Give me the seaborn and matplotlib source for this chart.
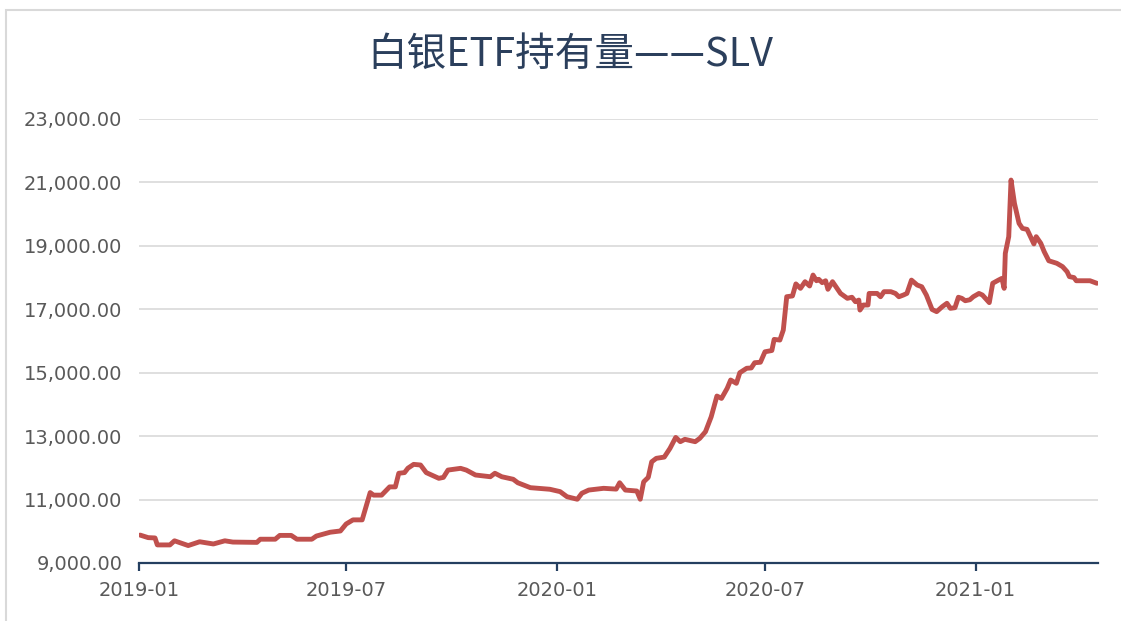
import numpy as np
import pandas as pd
import matplotlib
matplotlib.use("Agg")
import matplotlib.pyplot as plt
import matplotlib.dates as mdates
from matplotlib.patches import Rectangle
from matplotlib.ticker import FuncFormatter
import seaborn as sns

# ---- data ----
dates = [
    "2019-01-02", "2019-01-09", "2019-01-15", "2019-01-17", "2019-01-28", "2019-02-01",
    "2019-02-13", "2019-02-23", "2019-03-07", "2019-03-17", "2019-03-24", "2019-04-14",
    "2019-04-17", "2019-04-30", "2019-05-04", "2019-05-14", "2019-05-19", "2019-06-01",
    "2019-06-05", "2019-06-17", "2019-06-26", "2019-07-01", "2019-07-07", "2019-07-15",
    "2019-07-22", "2019-07-25", "2019-08-01", "2019-08-08", "2019-08-13", "2019-08-16",
    "2019-08-21", "2019-08-24", "2019-08-29", "2019-09-04", "2019-09-09", "2019-09-20",
    "2019-09-24", "2019-09-28", "2019-10-09", "2019-10-14", "2019-10-22", "2019-11-04",
    "2019-11-08", "2019-11-14", "2019-11-24", "2019-11-28", "2019-12-09", "2019-12-26",
    "2020-01-04", "2020-01-10", "2020-01-19", "2020-01-23", "2020-01-29", "2020-02-11",
    "2020-02-22", "2020-02-25", "2020-03-01", "2020-03-11", "2020-03-14", "2020-03-17",
    "2020-03-21", "2020-03-24", "2020-03-28", "2020-04-04", "2020-04-09", "2020-04-14",
    "2020-04-18", "2020-04-22", "2020-05-01", "2020-05-05", "2020-05-10", "2020-05-15",
    "2020-05-20", "2020-05-24", "2020-05-29", "2020-06-01", "2020-06-06", "2020-06-09",
    "2020-06-15", "2020-06-19", "2020-06-22", "2020-06-27", "2020-07-01", "2020-07-07",
    "2020-07-09", "2020-07-14", "2020-07-17", "2020-07-20", "2020-07-25", "2020-07-28",
    "2020-08-01", "2020-08-05", "2020-08-09", "2020-08-12", "2020-08-15", "2020-08-17",
    "2020-08-20", "2020-08-23", "2020-08-25", "2020-08-29", "2020-08-31", "2020-09-05",
    "2020-09-11", "2020-09-15", "2020-09-18", "2020-09-21", "2020-09-22", "2020-09-25",
    "2020-09-29", "2020-09-30", "2020-10-07", "2020-10-10", "2020-10-13", "2020-10-19",
    "2020-10-23", "2020-10-26", "2020-10-30", "2020-11-02", "2020-11-06", "2020-11-11",
    "2020-11-15", "2020-11-19", "2020-11-24", "2020-11-28", "2020-12-03", "2020-12-07",
    "2020-12-10", "2020-12-14", "2020-12-17", "2020-12-20", "2020-12-23", "2020-12-27",
    "2020-12-30", "2021-01-04", "2021-01-07", "2021-01-13", "2021-01-16", "2021-01-21",
    "2021-01-24", "2021-01-26", "2021-01-27", "2021-01-30", "2021-02-01", "2021-02-04",
    "2021-02-08", "2021-02-11", "2021-02-15", "2021-02-18", "2021-02-21", "2021-02-23",
    "2021-02-27", "2021-03-02", "2021-03-06", "2021-03-13", "2021-03-18", "2021-03-22",
    "2021-03-24", "2021-03-28", "2021-03-30", "2021-04-11", "2021-04-17",
]
holdings = [
    9880, 9800, 9790, 9570, 9570, 9700,
    9550, 9670, 9600, 9700, 9660, 9650,
    9750, 9750, 9870, 9870, 9750, 9750,
    9850, 9970, 10010, 10230, 10360, 10360,
    11220, 11140, 11140, 11400, 11400, 11830,
    11850, 11990, 12110, 12090, 11850, 11670,
    11700, 11930, 11985, 11930, 11775, 11720,
    11830, 11720, 11640, 11530, 11375, 11325,
    11250, 11090, 11010, 11200, 11300, 11355,
    11330, 11530, 11300, 11270, 11010, 11560,
    11700, 12190, 12300, 12340, 12615, 12960,
    12825, 12900, 12825, 12930, 13140, 13610,
    14265, 14190, 14510, 14770, 14665, 15000,
    15140, 15150, 15315, 15330, 15660, 15700,
    16050, 16030, 16345, 17397, 17420, 17800,
    17660, 17870, 17735, 18080, 17900, 17945,
    17840, 17900, 17630, 17870, 17765, 17500,
    17345, 17380, 17240, 17290, 16975, 17135,
    17135, 17500, 17500, 17395, 17555, 17555,
    17500, 17395, 17450, 17500, 17920, 17765,
    17710, 17450, 16995, 16925, 17085, 17190,
    17030, 17050, 17380, 17345, 17270, 17300,
    17395, 17500, 17450, 17210, 17820, 17920,
    17975, 17660, 18765, 19290, 21075, 20340,
    19710, 19550, 19520, 19290, 19060, 19290,
    19080, 18815, 18530, 18450, 18345, 18185,
    18030, 18000, 17900, 17900, 17820,
]
title_text = "白银ETF持有量——SLV"
y_ticks = [9000, 11000, 13000, 15000, 17000, 19000, 21000, 23000]
x_start, x_end = "2019-01-01", "2021-04-18"

df = pd.DataFrame({"date": pd.to_datetime(dates), "holdings": holdings})

# ---- style ----
sns.set_theme(style="white")
plt.rcParams["font.family"] = ["DejaVu Sans", "Noto Sans CJK SC"]

W, H = 1121, 621
fig = plt.figure(figsize=(W / 100, H / 100), dpi=100)
fig.patch.set_facecolor("white")

# chart-area frame (light gray, cut off at right/bottom)
fig.add_artist(Rectangle((6 / W, -0.2), 1.5, 1 - 10 / H + 0.2, transform=fig.transFigure,
                         fill=False, ec="#D9D9D9", lw=1.5))

ax = fig.add_axes([139 / W, 1 - 563 / H, (1098 - 139) / W, (563 - 119) / H])

sns.lineplot(data=df, x="date", y="holdings", ax=ax, color="#C0504D", linewidth=3.5,
             solid_joinstyle="round", solid_capstyle="round")

ax.set_ylim(9000, 23000)
ax.set_xlim(pd.Timestamp(x_start), pd.Timestamp(x_end))
ax.set_yticks(y_ticks)
ax.yaxis.set_major_formatter(FuncFormatter(lambda v, p: f"{v:,.2f}"))
ax.xaxis.set_major_locator(mdates.MonthLocator(bymonth=[1, 7]))
ax.xaxis.set_major_formatter(mdates.DateFormatter("%Y-%m"))

ax.set_xlabel("")
ax.set_ylabel("")
ax.grid(axis="y", color="#D9D9D9", linewidth=1.2)
ax.grid(axis="x", visible=False)
ax.set_axisbelow(True)
for s in ["left", "top", "right"]:
    ax.spines[s].set_visible(False)
ax.spines["bottom"].set_color("#243F60")
ax.spines["bottom"].set_linewidth(1.6)

ax.tick_params(axis="y", length=0, pad=12, labelsize=14, labelcolor="#595959")
ax.tick_params(axis="x", direction="out", length=6, width=1.6, color="#243F60",
               pad=7, labelsize=14, labelcolor="#595959", bottom=True)

fig.text(570 / W, 1 - 55 / H, title_text, ha="center", va="center", fontsize=28.5,
         color="#2B3F5C", fontweight="light", family=["Noto Sans CJK SC", "DejaVu Sans"])

fig.savefig("out.png", dpi=100, facecolor="white")
